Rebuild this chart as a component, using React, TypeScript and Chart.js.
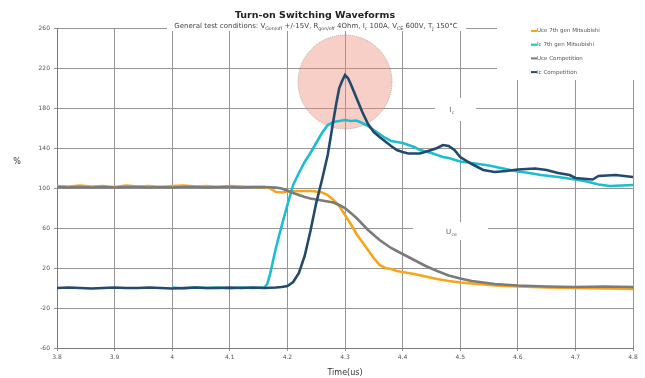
import React, { useEffect, useRef } from "react";
import { Chart, registerables } from "chart.js";

Chart.register(...registerables);

const FONT = "'DejaVu Sans', Verdana, sans-serif";

const X_MIN = 3.8;
const X_MAX = 4.8;
const X_STEP = 0.1;
const Y_MIN = -60;
const Y_MAX = 260;
const Y_STEP = 40;

const TITLE = "Turn-on Switching Waveforms";
// subtitle pieces: [text, isSubscript]
const SUBTITLE: [string, boolean][] = [
  ["General test conditions: V", false],
  ["Gon/off", true],
  [" +/-15V, R", false],
  ["gon/off", true],
  [" 4Ohm, I", false],
  ["c", true],
  [" 100A, V", false],
  ["CE", true],
  [" 600V, T", false],
  ["J", true],
  [" 150°C", false],
];
const X_TITLE = "Time(us)";
const Y_TITLE = "%";

const SERIES_LABELS = ["Uce 7th gen Mitsubishi", "Ic 7th gen Mitsubishi", "Uce Competition", "Ic Competition"];
const SERIES_COLORS = ["#F8A51C", "#1DBDD0", "#7B7B7B", "#234A6C"];

const uce7Time = [3.8, 3.82, 3.84, 3.86, 3.88, 3.9, 3.92, 3.94, 3.96, 3.98, 4.0, 4.02, 4.04, 4.06, 4.08, 4.1, 4.12, 4.14, 4.16, 4.17, 4.18, 4.19, 4.2, 4.22, 4.24, 4.25, 4.26, 4.27, 4.28, 4.29, 4.3, 4.31, 4.32, 4.33, 4.34, 4.35, 4.36, 4.37, 4.38, 4.39, 4.4, 4.42, 4.44, 4.46, 4.48, 4.5, 4.53, 4.56, 4.6, 4.65, 4.7, 4.75, 4.8];
const uce7Value = [102, 101.5, 102.5, 101.5, 102, 101, 102.5, 101.5, 102, 101, 102, 102.5, 101.5, 102, 101, 102, 101.5, 101, 101, 99.5, 96, 95.5, 96.5, 97, 97, 96.5, 95.5, 93, 88, 82, 73, 64, 54, 46, 38, 30, 23, 20, 19, 17, 16, 14, 11.5, 9, 7, 5.5, 4, 2.5, 1.5, 0.5, 0, -0.5, -1];

const ic7Time = [4.0, 4.02, 4.04, 4.06, 4.08, 4.1, 4.12, 4.14, 4.16, 4.165, 4.17, 4.175, 4.18, 4.19, 4.2, 4.21, 4.22, 4.23, 4.24, 4.25, 4.26, 4.27, 4.28, 4.29, 4.3, 4.31, 4.32, 4.33, 4.34, 4.35, 4.36, 4.37, 4.38, 4.39, 4.4, 4.41, 4.42, 4.43, 4.45, 4.47, 4.48, 4.5, 4.52, 4.55, 4.57, 4.6, 4.62, 4.64, 4.67, 4.7, 4.72, 4.74, 4.76, 4.78, 4.8];
const ic7Value = [0.5, -0.5, 0.5, 0, 0.5, -0.5, 0.5, 0, 0.5, 4, 14, 27, 40, 62, 83, 103, 115, 126, 135, 145, 155, 163, 166, 167, 168, 167, 167.5, 165, 162, 158, 154, 150, 147, 146, 145, 143, 141, 138, 135, 131, 130, 126.5, 125, 122.5, 120, 116.5, 115, 113, 111, 108.5, 106.5, 103.5, 102, 102.5, 103];

const uceCompTime = [3.8, 3.82, 3.84, 3.86, 3.88, 3.9, 3.92, 3.94, 3.96, 3.98, 4.0, 4.02, 4.04, 4.06, 4.08, 4.1, 4.12, 4.14, 4.16, 4.18, 4.19, 4.2, 4.21, 4.22, 4.23, 4.24, 4.25, 4.26, 4.27, 4.28, 4.29, 4.3, 4.31, 4.32, 4.33, 4.34, 4.35, 4.36, 4.37, 4.38, 4.39, 4.4, 4.42, 4.44, 4.46, 4.48, 4.5, 4.52, 4.54, 4.56, 4.6, 4.65, 4.7, 4.75, 4.8];
const uceCompValue = [101, 100.5, 101, 100.5, 101, 100.5, 101, 101, 100.5, 101, 100.5, 101, 101, 100.5, 101, 101, 100.5, 101, 101, 100.5, 99.5, 97.5, 95, 93, 91, 89.5, 88.5, 87.5, 86.5, 85.5, 83, 80, 75, 70, 64, 58, 53, 48, 44, 40, 37, 34, 28, 22, 17, 12.5, 9.5, 7, 5.5, 4, 2.5, 1.5, 1, 1.5, 1];

const icCompTime = [3.8, 3.82, 3.84, 3.86, 3.88, 3.9, 3.92, 3.94, 3.96, 3.98, 4.0, 4.02, 4.04, 4.06, 4.08, 4.1, 4.12, 4.14, 4.16, 4.18, 4.19, 4.2, 4.21, 4.22, 4.23, 4.24, 4.25, 4.26, 4.27, 4.28, 4.285, 4.29, 4.295, 4.3, 4.305, 4.31, 4.32, 4.33, 4.34, 4.35, 4.36, 4.37, 4.38, 4.39, 4.4, 4.41, 4.43, 4.45, 4.46, 4.47, 4.48, 4.49, 4.5, 4.52, 4.54, 4.56, 4.58, 4.6, 4.63, 4.65, 4.67, 4.69, 4.7, 4.73, 4.74, 4.77, 4.8];
const icCompValue = [0, 0.5, 0, -0.5, 0, 0.5, 0, 0, 0.5, 0, -0.5, 0, 0.5, 0, 0, 0.5, 0, 0.5, 0, 0.5, 1, 2, 6, 15, 32, 57, 85, 108, 133, 168, 185, 200, 207, 213, 210, 204, 190, 176, 164, 156, 151, 146.5, 142, 138, 136, 134.5, 134.5, 138, 140, 143, 142, 138, 131, 124, 118, 116, 117, 118.5, 119.5, 118, 115, 113, 110, 108.5, 112, 113, 111];

const SERIES_TIMES = [uce7Time, ic7Time, uceCompTime, icCompTime];
const SERIES_VALUES = [uce7Value, ic7Value, uceCompValue, icCompValue];

// annotations (data coordinates)
const HIGHLIGHT_T = 4.3;
const HIGHLIGHT_V = 206;
const IC_LABEL_T = 4.486;
const IC_LABEL_V = 178;
const UCE_LABEL_T = 4.484;
const UCE_LABEL_V = 56;

function drawSubText(ctx: CanvasRenderingContext2D, parts: [string, boolean][], cx: number, cy: number, size: number, subSize: number, color: string) {
  const mainFont = `${size}px ${FONT}`;
  const subFont = `${subSize}px ${FONT}`;
  let total = 0;
  for (const [t, sub] of parts) {
    ctx.font = sub ? subFont : mainFont;
    total += ctx.measureText(t).width;
  }
  let x = cx - total / 2;
  ctx.fillStyle = color;
  ctx.textBaseline = "alphabetic";
  ctx.textAlign = "left";
  for (const [t, sub] of parts) {
    ctx.font = sub ? subFont : mainFont;
    ctx.fillText(t, x, sub ? cy + size * 0.25 : cy);
    x += ctx.measureText(t).width;
  }
  return total;
}

const decorPlugin = {
  id: "decor",
  beforeDatasetsDraw(chart: any) {
    const { ctx } = chart;
    const xs = chart.scales.x;
    const ys = chart.scales.y;
    ctx.save();
    // white patches interrupting grid lines
    ctx.fillStyle = "#ffffff";
    // subtitle band
    ctx.fillRect(167, 18, 299, 13);
    // legend area
    ctx.fillRect(497, 18, 148, 62);
    // Ic label
    const icx = xs.getPixelForValue(IC_LABEL_T);
    const icy = ys.getPixelForValue(IC_LABEL_V);
    ctx.fillRect(icx - 17, icy - 12, 41, 23);
    // Uce label
    const ucx = xs.getPixelForValue(UCE_LABEL_T);
    const ucy = ys.getPixelForValue(UCE_LABEL_V);
    ctx.fillRect(ucx - 38, ucy - 10, 75, 18);

    // highlight circle
    const cx = xs.getPixelForValue(HIGHLIGHT_T);
    const cy = ys.getPixelForValue(HIGHLIGHT_V);
    const r = 47;
    ctx.beginPath();
    ctx.arc(cx, cy, r, 0, Math.PI * 2);
    ctx.fillStyle = "rgba(238, 140, 118, 0.42)";
    ctx.fill();
    ctx.setLineDash([1, 1]);
    ctx.lineWidth = 0.7;
    ctx.strokeStyle = "rgba(120,120,120,0.7)";
    ctx.stroke();
    ctx.setLineDash([]);

    // labels Ic / Uce
    ctx.fillStyle = "#555";
    ctx.font = `7px ${FONT}`;
    ctx.textAlign = "left";
    ctx.textBaseline = "alphabetic";
    ctx.fillText("I", icx - 3, icy + 2);
    ctx.font = `4.5px ${FONT}`;
    ctx.fillText("c", icx - 0.5, icy + 4);
    ctx.font = `7px ${FONT}`;
    ctx.fillText("U", ucx - 5, ucy + 2);
    ctx.font = `4.5px ${FONT}`;
    ctx.fillText("ce", ucx + 0.5, ucy + 4);
    ctx.restore();
  },
  afterDraw(chart: any) {
    const { ctx, chartArea } = chart;
    ctx.save();
    // title
    ctx.fillStyle = "#222";
    ctx.font = `bold 9.5px ${FONT}`;
    ctx.textAlign = "center";
    ctx.textBaseline = "middle";
    ctx.fillText(TITLE, 315, 16);
    // subtitle
    drawSubText(ctx, SUBTITLE, 316, 28, 7, 4.7, "#444");

    // legend
    const datasets = chart.data.datasets;
    ctx.font = `5.5px ${FONT}`;
    ctx.textBaseline = "middle";
    ctx.textAlign = "left";
    datasets.forEach((ds: any, i: number) => {
      const yy = 31 + i * 13.7;
      ctx.strokeStyle = ds.borderColor;
      ctx.lineWidth = 2;
      ctx.beginPath();
      ctx.moveTo(531, yy);
      ctx.lineTo(537, yy);
      ctx.stroke();
      ctx.fillStyle = "#555";
      ctx.fillText(ds.label, 537, yy);
    });

    // axis titles
    ctx.fillStyle = "#333";
    ctx.font = `8px ${FONT}`;
    ctx.textAlign = "center";
    ctx.textBaseline = "middle";
    ctx.fillText(Y_TITLE, 17, 162);
    ctx.fillText(X_TITLE, (chartArea.left + chartArea.right) / 2, 373);
    ctx.restore();
  },
};

export default function App() {
  const canvasRef = useRef<HTMLCanvasElement | null>(null);

  useEffect(() => {
    document.body.style.margin = "0";
    const canvas = canvasRef.current;
    if (!canvas) return;
    const datasets = SERIES_LABELS.map((label, i) => ({
      label,
      data: SERIES_TIMES[i].map((t, k) => ({ x: t, y: SERIES_VALUES[i][k] })),
      borderColor: SERIES_COLORS[i],
      backgroundColor: SERIES_COLORS[i],
      borderWidth: 2.6,
      pointRadius: 0,
      tension: 0,
      fill: false,
      order: SERIES_LABELS.length - i,
    }));
    const gridColor = "#959595";
    const chart = new Chart(canvas, {
      type: "line",
      data: { datasets },
      options: {
        animation: false,
        responsive: false,
        devicePixelRatio: 1,
        layout: { padding: { top: 28, right: 12, left: 0, bottom: 0 } },
        plugins: {
          legend: { display: false },
          title: { display: false },
          tooltip: { enabled: false },
        },
        scales: {
          x: {
            type: "linear",
            min: X_MIN,
            max: X_MAX,
            ticks: {
              stepSize: X_STEP,
              autoSkip: false,
              maxRotation: 0,
              padding: 3,
              color: "#555",
              font: { size: 6, family: FONT },
              callback: (v: any) => String(Math.round(Number(v) * 10) / 10),
            },
            grid: { color: gridColor, lineWidth: 1, tickLength: 3 },
            border: { color: "#7a7a7a", width: 1 },
            afterFit: (s: any) => {
              s.height = 30;
            },
          },
          y: {
            min: Y_MIN,
            max: Y_MAX,
            ticks: {
              stepSize: Y_STEP,
              padding: 4,
              color: "#555",
              font: { size: 6, family: FONT },
            },
            grid: { color: gridColor, lineWidth: 1, tickLength: 3 },
            border: { color: "#7a7a7a", width: 1 },
            afterFit: (s: any) => {
              s.width = 57;
            },
          },
        },
      } as any,
      plugins: [decorPlugin],
    });
    return () => chart.destroy();
  }, []);

  return (
    <div style={{ position: "relative", width: 645, height: 378 }}>
      <canvas ref={canvasRef} width={645} height={378} style={{ display: "block" }} />
    </div>
  );
}
